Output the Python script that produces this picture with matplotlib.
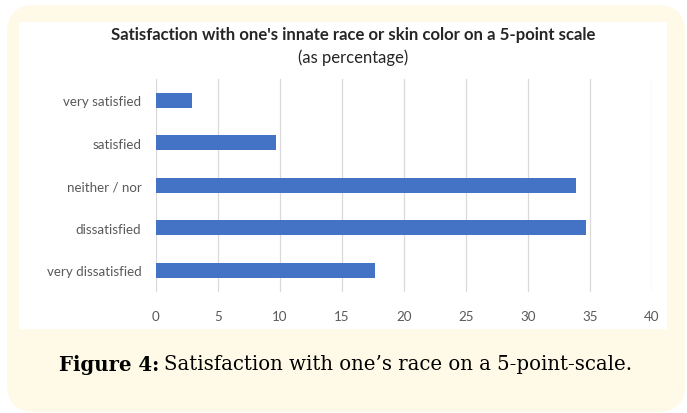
import matplotlib
matplotlib.use("Agg")
import matplotlib.pyplot as plt
from matplotlib.patches import FancyBboxPatch, Rectangle

# Survey responses (percent of respondents)
categories = ["very dissatisfied", "dissatisfied", "neither / nor", "satisfied", "very satisfied"]
percentages = [17.7, 34.7, 33.9, 9.7, 2.9]
xticks = [0, 5, 10, 15, 20, 25, 30, 35, 40]

W, H = 687, 414
fig = plt.figure(figsize=(W / 100, H / 100), dpi=100)
fig.patch.set_facecolor("white")

def fx(px):
    return px / W

def fy(py):
    return 1 - py / H

# Cream rounded card behind the chart
card = FancyBboxPatch((fx(7), fy(413)), fx(685) - fx(7), fy(6) - fy(413),
                      boxstyle="round,pad=0,rounding_size=0.04",
                      transform=fig.transFigure, facecolor="#FEFAE7",
                      edgecolor="none", zorder=0, mutation_aspect=W / H)
fig.patches.append(card)

# White chart panel
panel = Rectangle((fx(19), fy(330)), fx(667) - fx(19), fy(23) - fy(330),
                  transform=fig.transFigure, facecolor="white",
                  edgecolor="none", zorder=1)
fig.patches.append(panel)

ax = fig.add_axes([fx(156), fy(292.7), fx(652) - fx(156), fy(80) - fy(292.7)])
ax.set_facecolor("none")
ax.set_zorder(2)

ypos = list(range(len(categories)))
ax.barh(ypos, percentages, height=0.35, color="#4472C4", zorder=3)
ax.set_ylim(-0.5, len(categories) - 0.5)
ax.set_xlim(0, 40)
ax.set_xticks(xticks)
ax.set_xticklabels([str(t) for t in xticks])
ax.set_yticks(ypos)
ax.set_yticklabels(categories)
ax.xaxis.grid(True, color="#D9D9D9", linewidth=0.9, zorder=0)
ax.set_axisbelow(True)
for s in ax.spines.values():
    s.set_visible(False)
ax.tick_params(axis="both", length=0, labelsize=9.6, labelcolor="#595959")
ax.tick_params(axis="x", pad=13)
ax.tick_params(axis="y", pad=10.5)
for lab in ax.get_xticklabels() + ax.get_yticklabels():
    lab.set_family("Lato")

fig.text(fx(353), fy(35), "Satisfaction with one's innate race or skin color on a 5-point scale",
         ha="center", va="center", fontsize=12.1, fontweight="bold",
         color="#262626", family="Lato")
fig.text(fx(353), fy(58), "(as percentage)", ha="center", va="center",
         fontsize=12, color="#262626", family="Lato")

# Caption below the panel
cap_bold = fig.text(fx(59), fy(365), "Figure 4:", ha="left", va="center",
                    fontsize=14.2, fontweight="bold", color="black", family="DejaVu Serif")
fig.canvas.draw()
bb = cap_bold.get_window_extent()
fig.text(bb.x1 / W + fx(5), fy(365), "Satisfaction with one\u2019s race on a 5-point-scale.",
         ha="left", va="center", fontsize=14.2, color="black", family="DejaVu Serif")

fig.savefig("out.png", dpi=100)
